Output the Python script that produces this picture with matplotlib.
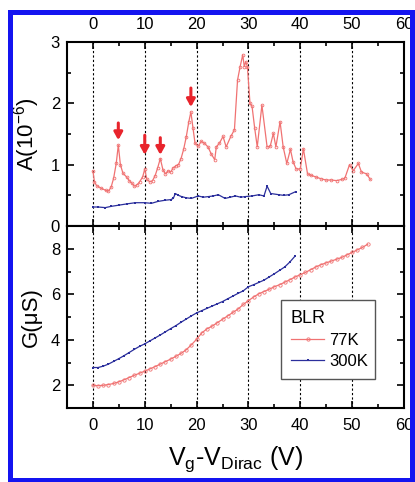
import numpy as np
import matplotlib
matplotlib.use("Agg")
import matplotlib.pyplot as plt
from matplotlib.patches import Rectangle

plt.rcParams['font.family'] = ['Liberation Sans', 'DejaVu Sans']
plt.rcParams['mathtext.fontset'] = 'custom'
plt.rcParams['mathtext.rm'] = 'Liberation Sans'
plt.rcParams['mathtext.it'] = 'Liberation Sans:italic'

# --- upper panel: A (1e-6) vs Vg - VDirac ---
v_a77 = [0, 0.3, 0.7, 1.5, 2.5, 3.0, 3.5, 4.0, 4.5, 4.9,
         5.3, 5.8, 6.5, 7.0, 7.5, 8.0, 8.5, 9.0, 9.6, 10.0,
         10.4, 11.0, 11.5, 12.0, 12.5, 13.0, 13.5, 14.0, 14.5, 15.0,
         15.5, 16.0, 16.5, 17.0, 17.5, 18.0, 18.5, 18.9, 19.3, 19.7,
         20.3, 20.9, 21.5, 22.2, 22.8, 23.5, 23.8, 24.4, 25.1, 25.7,
         26.6, 27.3, 27.9, 28.4, 28.9, 29.2, 29.5, 29.8, 30.3, 30.7,
         31.2, 31.7, 32.6, 33.6, 34.2, 34.8, 35.3, 36.1, 36.7, 37.4,
         38.1, 38.6, 39.2, 40.0, 40.6, 41.4, 42.0, 43.0, 44.0, 45.0,
         46.0, 47.0, 48.0, 48.6, 49.5, 50.2, 51.2, 51.8, 52.8, 53.5]
a77 = [0.9, 0.72, 0.66, 0.62, 0.58, 0.57, 0.63, 0.78, 1.02, 1.32,
       1.0, 0.86, 0.8, 0.74, 0.7, 0.65, 0.67, 0.72, 0.8, 0.93,
       0.76, 0.72, 0.74, 0.82, 0.95, 1.1, 0.92, 0.85, 0.9, 0.88,
       0.95, 0.98, 1.0, 1.1, 1.25, 1.45, 1.7, 1.86, 1.6, 1.35,
       1.3, 1.38, 1.35, 1.29, 1.18, 1.08, 1.29, 1.35, 1.46, 1.29,
       1.46, 1.57, 2.38, 2.6, 2.79, 2.6, 2.68, 2.6, 2.0, 1.95,
       1.6, 1.29, 1.97, 1.29, 1.3, 1.51, 1.29, 1.7, 1.29, 1.02,
       1.25, 1.05, 0.93, 0.93, 1.26, 0.85, 0.83, 0.8, 0.77, 0.75,
       0.75, 0.74, 0.76, 0.78, 1.0, 0.9, 1.02, 0.88, 0.85, 0.76]

v_a300 = [0, 1, 2.4, 3.5, 5.0, 6.5, 8.2, 10, 11.3, 12.5,
          13.9, 15.0, 15.5, 15.9, 16.5, 17.1, 18, 19.0, 20.3, 21.3,
          22.3, 23.2, 24.2, 25.5, 26.5, 27.5, 28.5, 29.4, 30.7, 32,
          33.0, 33.6, 34.3, 35.9, 36.8, 37.8, 39.1]
a300 = [0.31, 0.31, 0.30, 0.32, 0.34, 0.36, 0.38, 0.38, 0.37, 0.40,
        0.42, 0.43, 0.45, 0.53, 0.5, 0.48, 0.46, 0.45, 0.49, 0.47,
        0.48, 0.49, 0.51, 0.45, 0.47, 0.49, 0.47, 0.48, 0.49, 0.51,
        0.49, 0.65, 0.53, 0.51, 0.5, 0.51, 0.56]

# arrows: position, top, tip
arrow_v = [4.9, 10.0, 13.0, 18.9]
arrow_top = [1.68, 1.48, 1.44, 2.25]
arrow_tip = [1.40, 1.16, 1.16, 1.94]

# --- lower panel: G (uS) ---
v_g77 = list(range(0, 54))
g77 = [2.0, 1.98, 2.0, 2.03, 2.08, 2.15, 2.24, 2.34, 2.44, 2.53,
       2.62, 2.72, 2.82, 2.93, 3.04, 3.15, 3.27, 3.4, 3.56, 3.78,
       4.02, 4.3, 4.48, 4.6, 4.75, 4.9, 5.05, 5.2, 5.35, 5.55,
       5.72, 5.88, 6.02, 6.12, 6.22, 6.33, 6.42, 6.53, 6.64, 6.76,
       6.86, 6.96, 7.08, 7.2, 7.3, 7.38, 7.46, 7.54, 7.62, 7.73,
       7.84, 7.95, 8.06, 8.2]
v_g300 = list(range(0, 40))
g300 = [2.78, 2.78, 2.84, 2.93, 3.05, 3.17, 3.3, 3.44, 3.58, 3.71,
        3.82, 3.95, 4.08, 4.21, 4.35, 4.49, 4.62, 4.77, 4.91, 5.05,
        5.18, 5.28, 5.38, 5.48, 5.58, 5.68, 5.8, 5.92, 6.04, 6.15,
        6.33, 6.42, 6.52, 6.62, 6.76, 6.9, 7.05, 7.2, 7.42, 7.68]

xticks = [0, 10, 20, 30, 40, 50, 60]
red = '#f07272'
blue = '#2b2f9c'

fig = plt.figure(figsize=(4.15, 4.82), dpi=100)
ax1 = fig.add_axes([0.1614, 0.5311, 0.812, 0.3817])
ax2 = fig.add_axes([0.1614, 0.1535, 0.812, 0.3776])

ax1.plot(v_a77, a77, '-o', color=red, lw=0.9, ms=2.0, mfc='none', mew=0.6)
ax1.plot(v_a300, a300, '-s', color=blue, lw=0.9, ms=1.5, mew=0)
for v, t, p in zip(arrow_v, arrow_top, arrow_tip):
    ax1.annotate('', xy=(v, p), xytext=(v, t),
                 arrowprops=dict(arrowstyle='-|>,head_length=0.45,head_width=0.25',
                                 color='#e8242c', lw=2.2, shrinkA=0, shrinkB=0))

ax2.plot(v_g77, g77, '-o', color=red, lw=0.9, ms=2.4, mfc='none', mew=0.6, label='77K')
ax2.plot(v_g300, g300, '-s', color=blue, lw=0.9, ms=1.8, mew=0, label='300K')

for ax in (ax1, ax2):
    ax.set_xlim(-5, 60)
    ax.set_xticks(xticks)
    ax.set_xticks(np.arange(-5, 60, 5), minor=True)
    for v in xticks[:-1]:
        ax.axvline(v, color='black', ls=(0, (2, 2)), lw=0.8, zorder=0)
    ax.tick_params(which='both', direction='in', top=True, right=True,
                   labelsize=12, width=1.2, pad=7)
    ax.tick_params(which='major', length=5)
    ax.tick_params(which='minor', length=3)
    for s in ax.spines.values():
        s.set_linewidth(1.5)

ax1.set_ylim(0, 3)
ax1.set_yticks([0, 1, 2, 3])
ax1.set_yticks([0.5, 1.5, 2.5], minor=True)
ax1.tick_params(axis='x', labelbottom=False, labeltop=True)
ax1.tick_params(axis='y', pad=5)
ax1.set_ylabel('A(10$^{\\mathregular{-6}}$)', fontsize=16, labelpad=6)

ax2.set_ylim(1, 9)
ax2.set_yticks([2, 4, 6, 8])
ax2.set_yticks([3, 5, 7], minor=True)
ax2.tick_params(axis='y', pad=5)
ax2.set_ylabel('G(\u03bcS)', fontsize=16, labelpad=6)
ax2.set_xlabel('V$_{\\mathregular{g}}$-V$_{\\mathregular{Dirac}}$ (V)', fontsize=18, labelpad=8)

leg = ax2.legend(title='BLR', loc='lower left', bbox_to_anchor=(0.635, 0.159, 0.279, 0.4),
                 mode='expand', borderaxespad=0, fontsize=12, title_fontsize=13,
                 alignment='left', fancybox=False, edgecolor='#555555', framealpha=1,
                 handlelength=2.0, handletextpad=0.3, borderpad=0.6, labelspacing=0.35)
leg.get_frame().set_linewidth(1.0)

fig.patches.append(Rectangle((0.0229, 0.0041), 0.971, 0.97, transform=fig.transFigure,
                             fill=False, edgecolor='#1414f0', lw=3.6))

fig.savefig('out.png', dpi=100)
